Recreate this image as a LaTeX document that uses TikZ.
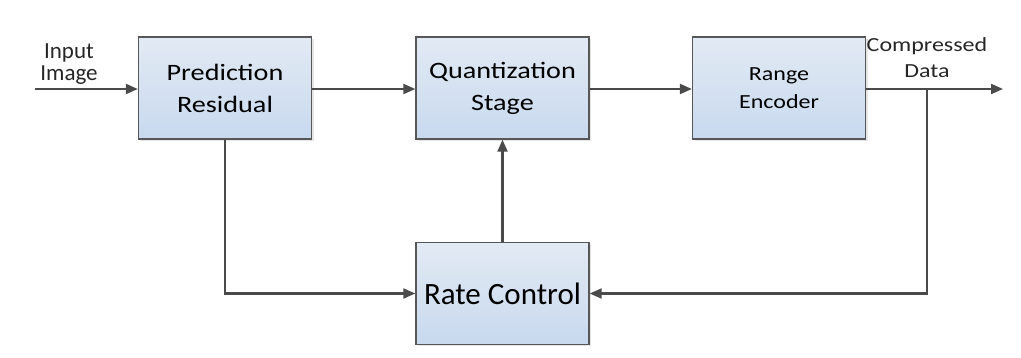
\documentclass[tikz,border=0pt]{standalone}
\usepackage{fontspec}
\setmainfont{Carlito}
\newfontfamily\widefont{Carlito}[FakeStretch=1.2]
\usetikzlibrary{arrows.meta, shadows}

\definecolor{boxline}{HTML}{575757}
\definecolor{boxtop}{HTML}{E2EAF4}
\definecolor{boxbot}{HTML}{C8D9EE}
\definecolor{flow}{HTML}{4A4A4A}

\tikzset{
	block/.style={draw=boxline, line width=1.4pt, top color=boxtop, bottom color=boxbot,
		minimum width=173pt, minimum height=102pt, align=center, inner sep=0pt,
		drop shadow={opacity=0.2, shadow xshift=2pt, shadow yshift=-2pt}},
	flowline/.style={draw=flow, line width=2.2pt, -{Triangle[length=12pt, width=10pt]}},
	label/.style={inner sep=0pt, align=center, text=black!85}
}

\begin{document}
\begin{tikzpicture}[x=1pt, y=-1pt]
	\useasboundingbox (0,0) rectangle (1021,358);
	
	% blocks
	\node[block, font=\widefont\fontsize{23.5}{32}\selectfont] (pred) at (225,88) {Prediction\\Residual};
	\node[block, font=\widefont\fontsize{23.5}{32}\selectfont] (quant) at (502.5,88) {Quantization\\Stage};
	\node[block, font=\widefont\fontsize{20}{28}\selectfont] (range) at (779,88) {Range\\Encoder};
	\node[block, font=\fontsize{31}{36}\selectfont] (rate) at (502.5,293.5) {Rate Control};
	
	% in / out labels
	\node[label, font=\fontsize{23}{22}\selectfont] (inlab) at (69,64.5) {Input\\Image};
	\node[label, font=\widefont\fontsize{20}{26}\selectfont] (outlab) at (927,58) {Compressed\\Data};
	
	\coordinate (in) at (35,89);
	\coordinate (out) at (1003,89);
	\coordinate (tap) at (927,89);
	
	% connectors
	\draw[flowline] (in) -- (pred.west |- in);
	\draw[flowline] (pred.east |- in) -- (quant.west |- in);
	\draw[flowline] (quant.east |- in) -- (range.west |- in);
	\draw[flowline] (range.east |- in) -- (out);
	\draw[flowline] (pred.south) |- (rate.west);
	\draw[flowline] (rate.north) -- (quant.south);
	\draw[flowline] (tap) |- (rate.east);
	
\end{tikzpicture}
\end{document}
